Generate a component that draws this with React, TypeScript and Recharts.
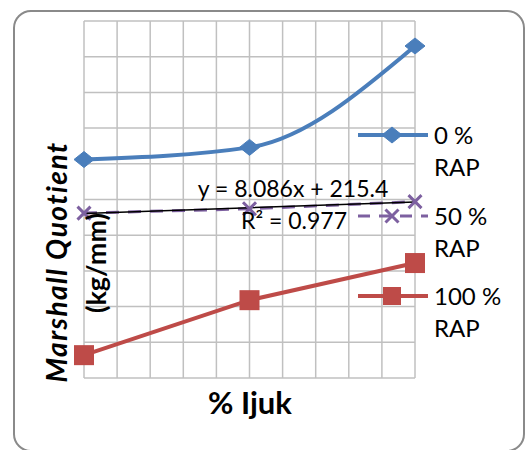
import { CartesianGrid, Legend, Line, LineChart, XAxis, YAxis } from 'recharts'

// % Ijuk positions (category index 1..3, as the trendline uses)
const xPos = [1, 2, 3]
const rap0 = [299, 316, 458]
const rap50 = [224, 230, 240]
const rap100 = [25, 102, 154]

// linear trendline fitted on the 50 % RAP series
const trendSlope = 8.086
const trendIntercept = 215.4
const trendLabel = 'y = 8.086x + 215.4'
const r2Label = 'R² = 0.977'

const xTicks = [1, 1.2, 1.4, 1.6, 1.8, 2, 2.2, 2.4, 2.6, 2.8, 3]
const yTicks = [-7, 43, 93, 143, 193, 243, 293, 343, 393, 443, 493]

const seriesNames = ['0 %\nRAP', '50 %\nRAP', '100 %\nRAP']

const data = xPos.map((x, i) => ({
  x,
  rap0: rap0[i],
  rap50: rap50[i],
  rap100: rap100[i],
  trend: trendSlope * x + trendIntercept,
}))

const BLUE = '#4a7ebb'
const PURPLE = '#7d60a0'
const RED = '#be4b48'
const FONT = 'Lato, sans-serif'

function Diamond({ cx, cy, w = 10, h = 8 }: { cx: number; cy: number; w?: number; h?: number }) {
  return <path d={`M${cx},${cy - h}L${cx + w},${cy}L${cx},${cy + h}L${cx - w},${cy}Z`} fill={BLUE} stroke={BLUE} />
}

function Square({ cx, cy, s = 10 }: { cx: number; cy: number; s?: number }) {
  return <rect x={cx - s} y={cy - s} width={s * 2} height={s * 2} fill={RED} />
}

function Cross({ cx, cy, s = 6.5 }: { cx: number; cy: number; s?: number }) {
  return (
    <path
      d={`M${cx - s},${cy - s}L${cx + s},${cy + s}M${cx - s},${cy + s}L${cx + s},${cy - s}`}
      stroke={PURPLE}
      strokeWidth={3}
    />
  )
}

function LegendBox() {
  const items = [
    { name: seriesNames[0], top: 118, icon: <Diamond cx={36} cy={17} />, color: BLUE, dash: undefined },
    { name: seriesNames[1], top: 199, icon: <Cross cx={36} cy={17} />, color: PURPLE, dash: '12 9' },
    { name: seriesNames[2], top: 279, icon: <Square cx={36} cy={17} s={9} />, color: RED, dash: undefined },
  ]
  return (
    <div>
      {items.map((it) => (
        <div key={it.name} style={{ position: 'absolute', left: 0, top: it.top - 118, display: 'flex' }}>
          <svg width={78} height={34}>
            <line x1={2} x2={72} y1={17} y2={17} stroke={it.color} strokeWidth={it.dash ? 3 : 4} strokeDasharray={it.dash} />
            {it.icon}
          </svg>
          <div style={{ fontFamily: FONT, fontSize: 24, lineHeight: '32px', whiteSpace: 'pre', color: '#000', marginTop: 1 }}>
            {it.name}
          </div>
        </div>
      ))}
    </div>
  )
}

export default function App() {
  return (
    <div style={{ position: 'absolute', left: 0, top: 0, width: 526, height: 450, overflow: 'hidden', background: '#fff' }}>
      <div
        style={{
          position: 'absolute',
          left: 13,
          top: 10,
          width: 512,
          height: 442,
          border: '2.5px solid #8a8a8a',
          borderRadius: 18,
          boxSizing: 'border-box',
        }}
      />
      <LineChart width={526} height={450} data={data} margin={{ top: 21, left: 84, right: 111, bottom: 72 }}>
        <CartesianGrid stroke="#c0c0c0" strokeWidth={1.5} />
        <XAxis dataKey="x" type="number" domain={[1, 3]} ticks={xTicks} hide />
        <YAxis type="number" domain={[-7, 493]} ticks={yTicks} hide />
        <Legend
          content={() => <LegendBox />}
          wrapperStyle={{ position: 'absolute', left: 356, top: 118, width: 170 }}
        />
        <Line
          dataKey="rap0"
          type="monotone"
          stroke={BLUE}
          strokeWidth={4}
          dot={(p: any) => <Diamond key={`d${p.index}`} cx={p.cx} cy={p.cy} />}
          isAnimationActive={false}
        />
        <Line
          dataKey="rap50"
          stroke={PURPLE}
          strokeWidth={3}
          strokeDasharray="13 9"
          dot={(p: any) => <Cross key={`c${p.index}`} cx={p.cx} cy={p.cy} />}
          isAnimationActive={false}
        />
        <Line
          dataKey="rap100"
          stroke={RED}
          strokeWidth={4}
          dot={(p: any) => <Square key={`s${p.index}`} cx={p.cx} cy={p.cy} />}
          isAnimationActive={false}
        />
        <Line dataKey="trend" stroke="#000" strokeWidth={1.5} dot={false} isAnimationActive={false} />
      </LineChart>
      <div style={{ position: 'absolute', left: 143, width: 300, top: 173, textAlign: 'center', fontFamily: FONT, fontSize: 23, lineHeight: '30px' }}>
        {trendLabel}
      </div>
      <div style={{ position: 'absolute', left: 144, width: 300, top: 205, textAlign: 'center', fontFamily: FONT, fontSize: 23, lineHeight: '30px' }}>
        {r2Label}
      </div>
      <div
        style={{
          position: 'absolute',
          left: 56 - 150,
          top: 262 - 18,
          width: 300,
          height: 36,
          lineHeight: '36px',
          textAlign: 'center',
          transform: 'rotate(-90deg)',
          fontFamily: FONT,
          fontSize: 28,
          fontWeight: 700,
          fontStyle: 'italic',
          letterSpacing: 1.5,
        }}
      >
        Marshall Quotient
      </div>
      <div
        style={{
          position: 'absolute',
          left: 96 - 100,
          top: 263 - 18,
          width: 200,
          height: 36,
          lineHeight: '36px',
          textAlign: 'center',
          transform: 'rotate(-90deg)',
          fontFamily: FONT,
          fontSize: 27,
          fontWeight: 700,
        }}
      >
        (kg/mm)
      </div>
      <div
        style={{
          position: 'absolute',
          left: 150,
          width: 200,
          top: 382,
          textAlign: 'center',
          fontFamily: FONT,
          fontSize: 31,
          fontWeight: 700,
          lineHeight: '40px',
        }}
      >
        % Ijuk
      </div>
    </div>
  )
}
